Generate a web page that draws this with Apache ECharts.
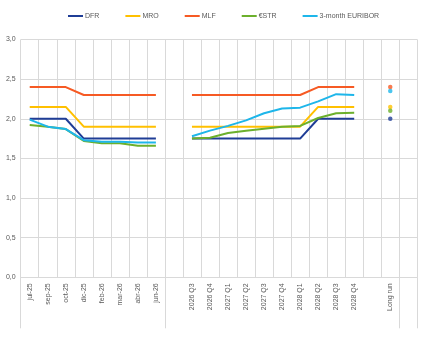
<!DOCTYPE html>
<html>
<head>
<meta charset="utf-8">
<script src="https://cdn.jsdelivr.net/npm/echarts@6/dist/echarts.min.js"></script>
<style>
  html, body { margin: 0; padding: 0; background: #ffffff; }
  #chart { width: 434px; height: 339px; }
</style>
</head>
<body>
<div id="chart"></div>
<script>
// Category slots: monthly path, gap, quarterly path, gap, long run, gap
const categories = [
  'jul-25', 'sep-25', 'oct-25', 'dic-25', 'feb-26', 'mar-26', 'abr-26', 'jun-26',
  '',
  '2026 Q3', '2026 Q4', '2027 Q1', '2027 Q2', '2027 Q3', '2027 Q4',
  '2028 Q1', '2028 Q2', '2028 Q3', '2028 Q4',
  '',
  'Long run',
  ''
];

const seriesNames = ['DFR', 'MRO', 'MLF', '€STR', '3-month EURIBOR'];

const dfr = [2.00, 2.00, 2.00, 1.75, 1.75, 1.75, 1.75, 1.75, null,
  1.75, 1.75, 1.75, 1.75, 1.75, 1.75, 1.75, 2.00, 2.00, 2.00, null, null, null];
const mro = [2.15, 2.15, 2.15, 1.90, 1.90, 1.90, 1.90, 1.90, null,
  1.90, 1.90, 1.90, 1.90, 1.90, 1.90, 1.90, 2.15, 2.15, 2.15, null, null, null];
const mlf = [2.40, 2.40, 2.40, 2.30, 2.30, 2.30, 2.30, 2.30, null,
  2.30, 2.30, 2.30, 2.30, 2.30, 2.30, 2.30, 2.40, 2.40, 2.40, null, null, null];
const estr = [1.92, 1.90, 1.87, 1.72, 1.69, 1.69, 1.66, 1.66, null,
  1.75, 1.76, 1.82, 1.85, 1.875, 1.90, 1.91, 2.01, 2.07, 2.075, null, null, null];
const euribor = [1.99, 1.90, 1.87, 1.73, 1.71, 1.71, 1.70, 1.70, null,
  1.78, 1.85, 1.91, 1.98, 2.07, 2.13, 2.14, 2.22, 2.31, 2.30, null, null, null];

// Long-run values, shown as single dots
const longRunDfr = 2.00;
const longRunMro = 2.15;
const longRunMlf = 2.40;
const longRunEstr = 2.10;
const longRunEuribor = 2.35;

const yTicks = { min: 0, max: 3, interval: 0.5 };

const colors = ['#1f3d96', '#ffc000', '#f65a24', '#6cb02c', '#1eb6ea'];
const lineData = [dfr, mro, mlf, estr, euribor];
const longRun = [longRunDfr, longRunMro, longRunMlf, longRunEstr, longRunEuribor];
const longRunIndex = categories.indexOf('Long run');

// Group separators under the axis
const groupStarts = [0, 8, 21];

const series = [];
lineData.forEach(function (arr, i) {
  series.push({
    name: seriesNames[i],
    type: 'line',
    data: arr,
    symbol: 'none',
    connectNulls: false,
    lineStyle: { width: 2, color: colors[i] },
    itemStyle: { color: colors[i] },
    z: 3 + i
  });
});
// Long-run dots, drawn above the lines
longRun.forEach(function (v, i) {
  const d = categories.map(function (_, k) { return k === longRunIndex ? v : null; });
  series.push({
    name: seriesNames[i],
    type: 'scatter',
    data: d,
    symbol: 'circle',
    symbolSize: 4.5,
    itemStyle: { color: colors[i] },
    z: 10
  });
});

const chart = echarts.init(document.getElementById('chart'), null, { renderer: 'canvas' });
chart.setOption({
  animation: false,
  backgroundColor: '#ffffff',
  textStyle: { fontFamily: 'Liberation Sans, Arial, sans-serif' },
  legend: {
    data: seriesNames,
    left: 68,
    top: 12.5,
    padding: 0,
    itemWidth: 15,
    itemHeight: 2,
    itemGap: 26,
    icon: 'rect',
    textStyle: { fontSize: 7, color: '#595959', padding: [0, 0, 0, -3] },
    selectedMode: false
  },
  grid: {
    left: 20.7,
    right: 16.7,
    top: 39.5,
    bottom: 61.7,
    containLabel: false
  },
  xAxis: {
    type: 'category',
    data: categories,
    boundaryGap: true,
    axisLine: { show: true, lineStyle: { color: '#d9d9d9', width: 1 } },
    axisTick: {
      show: true,
      interval: function (index) { return groupStarts.indexOf(index) >= 0; },
      length: 51,
      lineStyle: { color: '#d9d9d9', width: 1 }
    },
    axisLabel: {
      interval: 0,
      rotate: 90,
      fontSize: 7,
      color: '#595959',
      margin: 6
    },
    splitLine: { show: true, interval: 0, lineStyle: { color: '#d9d9d9', width: 1 } }
  },
  yAxis: {
    type: 'value',
    min: yTicks.min,
    max: yTicks.max,
    interval: yTicks.interval,
    axisLine: { show: false },
    axisTick: { show: false },
    axisLabel: {
      fontSize: 7,
      color: '#595959',
      margin: 5,
      formatter: function (v) { return v.toFixed(1).replace('.', ','); }
    },
    splitLine: { show: true, lineStyle: { color: '#d9d9d9', width: 1 } }
  },
  series: series
});
</script>
</body>
</html>
